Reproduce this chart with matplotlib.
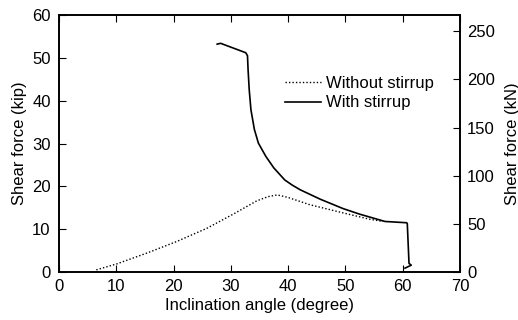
import numpy as np
import matplotlib.pyplot as plt

plt.rcParams['font.family'] = ['Liberation Sans', 'DejaVu Sans']

# shear capacity vs. inclination angle, kip
ang_with = [27.6, 28.2, 32.6, 32.9, 33.0, 33.2, 33.5, 34.1, 34.8, 36.1, 37.5,
            39.4, 40.7, 42.1, 45.6, 49.6, 52.5, 56.9, 60.7, 60.8, 61.1, 61.5, 60.4]
v_with = [53.2, 53.4, 51.2, 50.5, 47.3, 42.6, 37.9, 33.3, 30.1, 27.0, 24.3,
          21.5, 20.3, 19.2, 17.0, 14.8, 13.5, 11.8, 11.5, 11.3, 2.0, 1.6, 0.9]

ang_without = [6.5, 10.1, 15.3, 20.5, 25.8, 30.4, 34.5, 36.5, 38.1, 40.0,
               43.8, 49.6, 54.3, 56.6]
v_without = [0.5, 1.9, 4.4, 7.1, 10.2, 13.5, 16.6, 17.6, 18.0, 17.4,
             15.7, 13.8, 12.3, 11.8]

KIP2KN = 4.448

fig, ax = plt.subplots(figsize=(518/100, 320/100), dpi=100)
fig.subplots_adjust(left=0.114, right=0.888, top=0.953, bottom=0.15)

ax.plot(ang_without, v_without, color='black', lw=1.0, ls=(0, (1, 1.5)),
        label='Without stirrup')
ax.plot(ang_with, v_with, color='black', lw=1.2, label='With stirrup')

ax.set_xlim(0, 70)
ax.set_ylim(0, 60)
ax.set_xticks(np.arange(0, 71, 10))
ax.set_yticks(np.arange(0, 61, 10))
ax.tick_params(direction='in', top=True, length=5, labelsize=12)
ax.tick_params(axis='x', pad=5)
ax.tick_params(axis='y', pad=6)
ax.set_xlabel('Inclination angle (degree)', fontsize=12, labelpad=3)
ax.set_ylabel('Shear force (kip)', fontsize=12, labelpad=4)

ax2 = ax.twinx()
ax2.set_ylim(0, 60 * KIP2KN)
ax2.set_yticks(np.arange(0, 251, 50))
ax2.tick_params(direction='in', length=5, labelsize=12, pad=5)
ax2.set_ylabel('Shear force (kN)', fontsize=12, labelpad=7)

for a in (ax, ax2):
    for s in a.spines.values():
        s.set_linewidth(1.2)

ax.legend(loc='upper left', bbox_to_anchor=(0.525, 0.82), frameon=False,
          fontsize=12, handlelength=2.2, handletextpad=0.3, labelspacing=0.25)

plt.savefig('out.png', dpi=100)
